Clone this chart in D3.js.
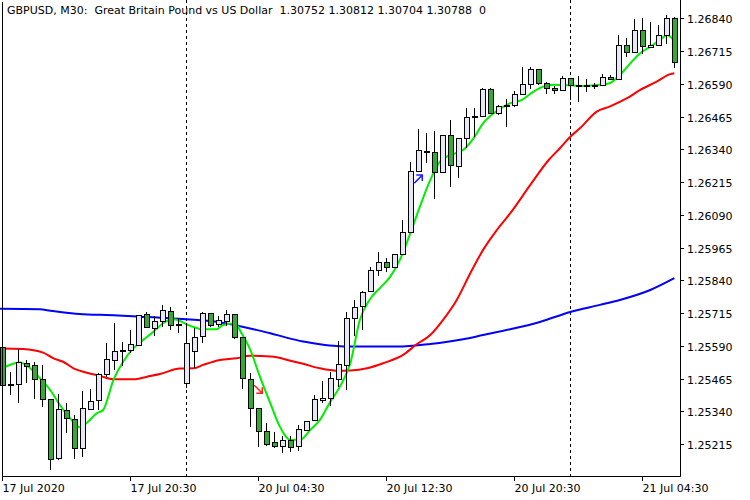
<!DOCTYPE html>
<html><head><meta charset="utf-8">
<script src="https://cdn.jsdelivr.net/npm/d3@7"></script>
<style>body{margin:0;background:#fff}text{font-family:"DejaVu Sans",sans-serif;font-size:11px;fill:#000}</style>
</head><body><svg id="c" width="750" height="500"></svg>
<script>
const title = "GBPUSD, M30:  Great Britain Pound vs US Dollar  1.30752 1.30812 1.30704 1.30788  0";
const priceTicks = [1.26840,1.26715,1.26590,1.26465,1.26340,1.26215,1.26090,1.25965,1.25840,1.25715,1.25590,1.25465,1.25340,1.25215];
const timeTicks = [[0,"17 Jul 2020"],[16,"17 Jul 20:30"],[32,"20 Jul 04:30"],[48,"20 Jul 12:30"],[64,"20 Jul 20:30"],[80,"21 Jul 04:30"]];
const daySeparators = [23,71];
const opens  = [1.25584,1.25440,1.25443,1.25523,1.25516,1.25462,1.25386,1.25161,1.25342,1.25307,1.25199,1.25348,1.25380,1.25481,1.25533,1.25573,1.25572,1.25590,1.25708,1.25657,1.25682,1.25720,1.25672,
1.25447,1.25569,1.25625,1.25714,1.25672,1.25682,1.25708,1.25622,1.25462,1.25351,1.25264,1.25222,1.25205,1.25227,1.25207,1.25265,1.25304,1.25382,1.25390,1.25462,1.25513,1.25695,1.25739,1.25797,1.25879,1.25909,1.25890,1.25940,1.26023,1.26257,1.26331,1.26329,1.26252,1.26391,1.26276,1.26382,1.26465,1.26465,1.26570,1.26478,1.26506,1.26506,1.26550,1.26589,1.26643,1.26592,1.26573,1.26563,1.26611,1.26582,1.26579,1.26582,1.26582,1.26615,1.26607,1.26738,1.26710,1.26792,1.26728,1.26735,1.26776,1.26840];
const highs  = [1.25585,1.25490,1.25577,1.25536,1.25529,1.25517,1.25387,1.25406,1.25371,1.25326,1.25419,1.25425,1.25486,1.25602,1.25676,1.25606,1.25650,1.25708,1.25720,1.25704,1.25746,1.25739,1.25695,
1.25676,1.25658,1.25720,1.25715,1.25704,1.25727,1.25708,1.25623,1.25485,1.25352,1.25294,1.25260,1.25246,1.25246,1.25288,1.25303,1.25402,1.25456,1.25491,1.25608,1.25720,1.25765,1.25799,1.25892,1.25947,1.25924,1.25940,1.26070,1.26293,1.26418,1.26401,1.26410,1.26395,1.26452,1.26382,1.26497,1.26497,1.26573,1.26575,1.26509,1.26532,1.26564,1.26655,1.26655,1.26647,1.26598,1.26582,1.26620,1.26611,1.26620,1.26607,1.26594,1.26627,1.26624,1.26776,1.26765,1.26836,1.26840,1.26825,1.26815,1.26853,1.26846];
const lows   = [1.25440,1.25402,1.25373,1.25447,1.25386,1.25358,1.25116,1.25154,1.25256,1.25157,1.25167,1.25345,1.25345,1.25472,1.25498,1.25513,1.25564,1.25589,1.25658,1.25627,1.25661,1.25650,1.25638,
1.25428,1.25504,1.25600,1.25662,1.25663,1.25666,1.25615,1.25424,1.25279,1.25205,1.25208,1.25199,1.25180,1.25184,1.25188,1.25264,1.25303,1.25373,1.25360,1.25432,1.25421,1.25627,1.25650,1.25796,1.25858,1.25873,1.25889,1.25939,1.26022,1.26256,1.26289,1.26149,1.26251,1.26197,1.26232,1.26344,1.26386,1.26464,1.26477,1.26471,1.26426,1.26500,1.26549,1.26569,1.26586,1.26550,1.26550,1.26562,1.26528,1.26522,1.26560,1.26569,1.26581,1.26605,1.26606,1.26691,1.26709,1.26704,1.26727,1.26734,1.26741,1.26649];
const closes = [1.25440,1.25441,1.25526,1.25510,1.25462,1.25386,1.25157,1.25345,1.25313,1.25199,1.25349,1.25379,1.25482,1.25536,1.25570,1.25572,1.25593,1.25707,1.25661,1.25682,1.25723,1.25666,1.25671,
1.25600,1.25622,1.25714,1.25666,1.25686,1.25708,1.25622,1.25466,1.25351,1.25262,1.25215,1.25206,1.25230,1.25203,1.25269,1.25302,1.25383,1.25390,1.25466,1.25517,1.25695,1.25737,1.25793,1.25879,1.25909,1.25890,1.25940,1.26023,1.26257,1.26334,1.26332,1.26252,1.26391,1.26280,1.26382,1.26462,1.26464,1.26570,1.26478,1.26505,1.26507,1.26550,1.26588,1.26645,1.26592,1.26573,1.26563,1.26611,1.26582,1.26581,1.26582,1.26583,1.26615,1.26607,1.26738,1.26710,1.26792,1.26732,1.26735,1.26776,1.26840,1.26672];
const maFast = [[0.1,1.25506],[2.2,1.25526],[3.5,1.25504],[4.7,1.25466],[6,1.25421],[7.2,1.25364],[8.5,1.25313],[9.7,1.25279],[10.5,1.25294],[11.8,1.25332],[12.6,1.25345],[13.9,1.25460],[15.1,1.25529],[16.4,1.25581],[17.6,1.25612],[18.9,1.25644],[20.1,1.25676],[21.4,1.25691],[23.5,1.25666],[25.1,1.25653],[26.8,1.25653],[27.6,1.25669],[29.1,1.25676],[29.9,1.25638],[31,1.25574],[32.2,1.25472],[33.5,1.25371],[34.7,1.25281],[36,1.25231],[37.2,1.25231],[38.5,1.25269],[39.7,1.25307],[40.9,1.25371],[42.2,1.25434],[43.5,1.25523],[44.7,1.25689],[45.9,1.25765],[47.2,1.25810],[48.5,1.25854],[49.7,1.25918],[51,1.26019],[52.2,1.26121],[53.5,1.26223],[54.7,1.26293],[56,1.26318],[57.6,1.26337],[58.9,1.26382],[60.1,1.26439],[61.4,1.26477],[63.5,1.26516],[64.9,1.26528],[66.4,1.26560],[67.6,1.26579],[68.9,1.26586],[72.6,1.26582],[74.7,1.26586],[75.9,1.26592],[77.2,1.26624],[78.5,1.26668],[79.7,1.26706],[81,1.26732],[82.2,1.26757],[83.1,1.26776],[83.9,1.26757]];
const maMid = [[-0.3,1.25580],[2.6,1.25578],[5.1,1.25564],[6.4,1.25542],[7.6,1.25529],[8.9,1.25504],[10.6,1.25487],[12.2,1.25475],[13.9,1.25462],[16.4,1.25462],[18.1,1.25472],[19.7,1.25482],[22.2,1.25503],[23.9,1.25504],[25.1,1.25517],[27.2,1.25536],[29.3,1.25542],[31,1.25552],[32.2,1.25551],[34.3,1.25546],[36,1.25533],[37.6,1.25521],[39.7,1.25504],[41.8,1.25495],[43.5,1.25496],[45.6,1.25504],[47.6,1.25523],[50.1,1.25555],[51.8,1.25596],[53.5,1.25631],[55.1,1.25689],[56.8,1.25765],[58.5,1.25867],[60.1,1.25956],[61.8,1.26031],[63.5,1.26096],[66,1.26204],[68.3,1.26299],[69.7,1.26344],[71,1.26388],[72.2,1.26420],[74.3,1.26484],[75.9,1.26503],[78.1,1.26535],[79.7,1.26566],[81.8,1.26598],[83.5,1.26627],[84,1.26630]];
const maSlow = [[-0.3,1.25731],[4.7,1.25729],[6,1.25724],[8,1.25716],[10.1,1.25710],[12.2,1.25708],[17.2,1.25701],[21,1.25695],[27.2,1.25680],[29.3,1.25667],[31.4,1.25653],[33.5,1.25638],[35.5,1.25621],[37.6,1.25606],[39.7,1.25596],[41.8,1.25589],[43.5,1.25587],[49.3,1.25587],[53.5,1.25597],[57.6,1.25615],[60.1,1.25631],[63.5,1.25653],[67.2,1.25681],[71,1.25719],[74.7,1.25746],[77.2,1.25765],[81,1.25803],[84,1.25848]];
const signals = [{bar:32,price:1.25420,dir:"down",color:"#ff2020"},{bar:52,price:1.26230,dir:"up",color:"#2020ff"}];

const svg = d3.select("#c");
const x = d3.scaleLinear().domain([0,84]).range([2.3,674.3]);
const y = d3.scaleLinear().domain([1.25215,1.26840]).range([444,18.3]);
const R = 680, B = 476;

// day separators
svg.selectAll(".sep").data(daySeparators).join("line")
  .attr("x1",d=>Math.round(x(d))+0.5).attr("x2",d=>Math.round(x(d))+0.5).attr("y1",0).attr("y2",B)
  .attr("stroke","#000").attr("stroke-dasharray","3,3");

const line = d3.line().x(d=>x(d[0])).y(d=>y(d[1])).curve(d3.curveMonotoneX);
const g = svg.append("g");
[[maSlow,"#0000ff"],[maMid,"#ff0000"],[maFast,"#00ee00"]].forEach(([d,c])=>{
  g.append("path").attr("d",line(d)).attr("fill","none").attr("stroke",c).attr("stroke-width",2);
});

const data = opens.map((o,i)=>({i,o,h:highs[i],l:lows[i],c:closes[i]}));
const cg = svg.append("g").attr("shape-rendering","crispEdges");
cg.selectAll(".w").data(data).join("line")
  .attr("x1",d=>Math.round(x(d.i))+0.5).attr("x2",d=>Math.round(x(d.i))+0.5)
  .attr("y1",d=>y(d.h)).attr("y2",d=>y(d.l)).attr("stroke","#000");
cg.selectAll(".b").data(data).join("rect")
  .attr("x",d=>Math.round(x(d.i))-2+0.5).attr("width",5)
  .attr("y",d=>y(Math.max(d.o,d.c))).attr("height",d=>Math.max(1,Math.abs(y(d.o)-y(d.c))))
  .attr("fill",d=>d.c>=d.o?"#e6e6f5":"#33aa33").attr("stroke","#000");

// signal arrows
signals.forEach(s=>{
  const px=x(s.bar), py=y(s.price);
  const a = svg.append("g").attr("transform",`translate(${px},${py})`).attr("stroke",s.color).attr("stroke-width",1.5).attr("fill","none");
  if(s.dir==="down"){a.append("path").attr("d","M-4,-5 L4,3 M4,-3 L4,3 L-2,3");}
  else {a.append("path").attr("d","M-4,5 L4,-3 M-2,-3 L4,-3 L4,3");}
});

// frame
svg.append("path").attr("d",`M2.5,2 V${B+0.5} H${R+0.5} V0`).attr("fill","none").attr("stroke","#000");

// right axis
const ya = svg.append("g");
priceTicks.forEach(p=>{
  const py=Math.round(y(p))+0.5;
  ya.append("line").attr("x1",R).attr("x2",R+4).attr("y1",py).attr("y2",py).attr("stroke","#000");
  ya.append("text").attr("x",R+7).attr("y",py+4).text(p.toFixed(5));
});
// bottom axis
timeTicks.forEach(([b,t])=>{
  const px=Math.round(x(b))+0.5;
  svg.append("line").attr("x1",px).attr("x2",px).attr("y1",B).attr("y2",B+5).attr("stroke","#000");
  svg.append("text").attr("x",px).attr("y",B+16).text(t);
});
svg.append("text").attr("x",7).attr("y",14).attr("xml:space","preserve").text(title);
</script></body></html>
